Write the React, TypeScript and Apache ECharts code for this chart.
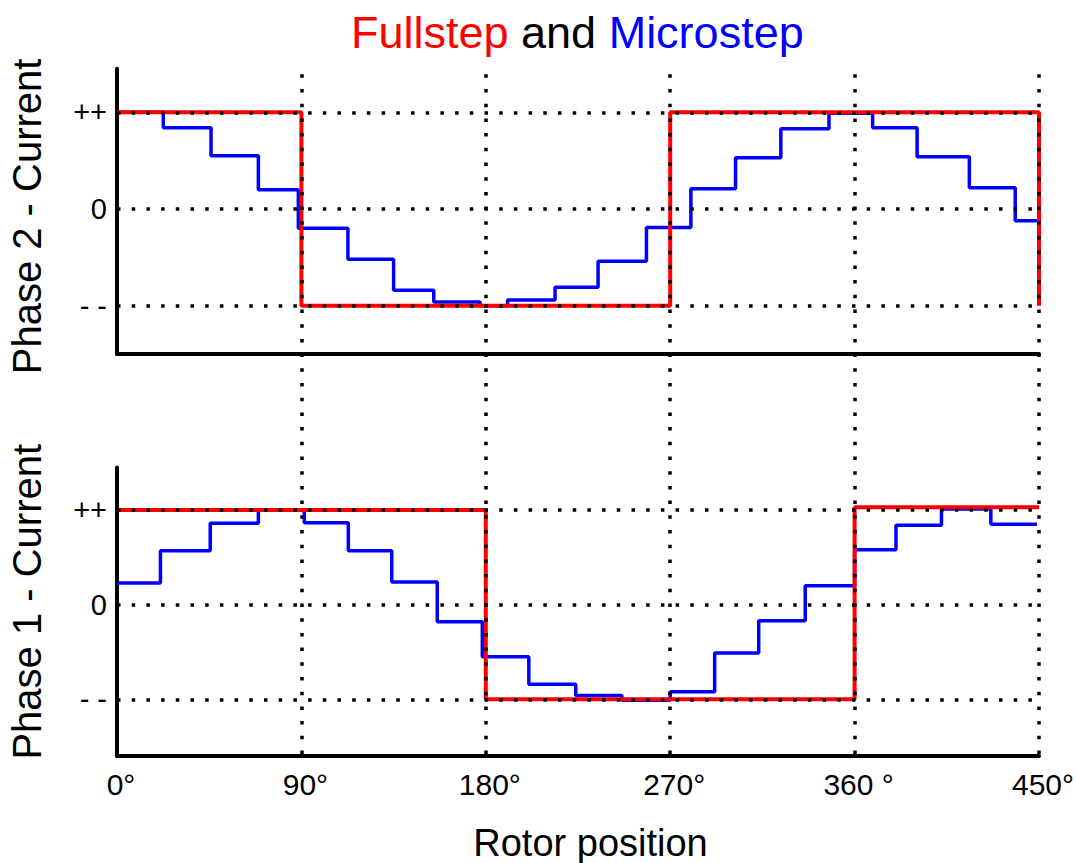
import React, { useEffect, useRef } from "react";
import * as echarts from "echarts";

// ---- data ----
const angleTicks = [0, 90, 180, 270, 360, 450];
const angleLabels = ["0°", "90°", "180°", "270°", "360 °", "450°"];
const levelValues = [1, 0, -1];
const levelNames = ["++", "0", "- -"];

// Phase 2 (top panel)
const phase2FullX = [0, 90, 270, 450];
const phase2FullY = [1, -1, 1, -1];
const phase2MicroX = [0, 22.6, 45.9, 69, 88.5, 112.7, 135, 154.6, 177.2, 190.6, 213.8, 234.8, 258.4, 280.1, 301.9, 324, 347.5, 368.8, 390.5, 416, 438.4, 449];
const phase2MicroY = [1.0, 0.84, 0.55, 0.2, -0.2, -0.52, -0.84, -0.96, -1.0, -0.94, -0.81, -0.54, -0.19, 0.21, 0.53, 0.83, 0.99, 0.84, 0.54, 0.22, -0.12, -0.12];

// Phase 1 (bottom panel)
const phase1FullX = [0, 180, 360, 450];
const phase1FullY = [1, -1, 1.03, 1.03];
const phase1MicroX = [0, 21.2, 45.5, 69, 91.4, 112.9, 134.1, 156.3, 178.3, 201, 223.9, 246.4, 270, 291.7, 313.2, 335.9, 360, 380.2, 402.4, 426.5, 449];
const phase1MicroY = [0.23, 0.57, 0.86, 1.0, 0.865, 0.57, 0.24, -0.18, -0.55, -0.84, -0.96, -1.01, -0.92, -0.51, -0.17, 0.2, 0.58, 0.84, 1.01, 0.85, 0.85];

const FONT = "Liberation Sans, Arial, sans-serif";
const RED = "#ff0000";
const BLUE = "#0000ff";

const pairs = (xs: number[], ys: number[]) => xs.map((x, i) => [x, ys[i]]);

const levelFormatter = (v: number) => {
  const r = Math.round(v * 100) / 100;
  const idx = levelValues.indexOf(r);
  return idx >= 0 ? levelNames[idx] : "";
};

const dotted = { type: [3.5, 11.2] as any, width: 3.5, color: "#000", cap: "butt" as any };

export default function App() {
  const ref = useRef<HTMLDivElement>(null);
  useEffect(() => {
    if (!ref.current) return;
    const chart = echarts.init(ref.current, undefined, { renderer: "svg" });
    const axisLineStyle = { show: true, onZero: false, lineStyle: { color: "#000", width: 4 } };
    const yAxisBase = {
      type: "value" as const,
      interval: 0.5,
      axisLine: axisLineStyle,
      axisTick: { show: false },
      splitLine: { show: false },
      axisLabel: {
        formatter: levelFormatter,
        fontSize: 29,
        fontFamily: FONT,
        color: "#000",
        margin: 10,
      },
      nameLocation: "middle" as const,
      nameGap: 70,
    };
    const nameStyle = (padding: number[]) => ({ fontSize: 40, fontFamily: FONT, color: "#000", padding });
    const hLines = (idx: number) => ({
      type: "line",
      xAxisIndex: idx,
      yAxisIndex: idx,
      data: [],
      z: 10,
      silent: true,
      markLine: {
        silent: true,
        symbol: ["none", "none"],
        label: { show: false },
        lineStyle: dotted,
        data: levelValues.map((v) => ({ yAxis: v })),
      },
    });
    chart.setOption({
      animation: false,
      title: {
        text: "{r|Fullstep} {k|and} {b|Microstep}",
        left: 346,
        top: 5,
        textStyle: {
          fontSize: 45,
          fontWeight: "normal",
          fontFamily: FONT,
          color: "#000",
          rich: {
            r: { fontSize: 45, fontFamily: FONT, color: RED },
            k: { fontSize: 45, fontFamily: FONT, color: "#000" },
            b: { fontSize: 45, fontFamily: FONT, color: BLUE },
          },
        },
      },
      grid: [
        { left: 117, width: 922, top: 68.8, height: 285.3, outerBoundsMode: "none", containLabel: false },
        { left: 117, width: 922, top: 467.4, height: 288.7, outerBoundsMode: "none", containLabel: false },
        { left: 117, width: 922, top: 64, height: 690, outerBoundsMode: "none", containLabel: false },
      ],
      xAxis: [
        {
          type: "value",
          gridIndex: 0,
          min: 0,
          max: 450,
          interval: 90,
          axisLine: axisLineStyle,
          axisTick: { show: false },
          axisLabel: { show: false },
          splitLine: { show: false },
        },
        {
          type: "value",
          gridIndex: 1,
          min: 0,
          max: 450,
          interval: 90,
          axisLine: axisLineStyle,
          axisTick: { show: false },
          splitLine: { show: false },
          axisLabel: {
            formatter: (v: number) => {
              const i = angleTicks.indexOf(Math.round(v));
              return i >= 0 ? angleLabels[i] : "";
            },
            fontSize: 30,
            fontFamily: FONT,
            color: "#000",
            margin: 13,
            padding: [0, 0, 0, 8],
          },
          name: "Rotor position",
          nameLocation: "middle",
          nameGap: 68,
          nameTextStyle: { fontSize: 38, fontFamily: FONT, color: "#000", padding: [0, 0, 0, 25] },
        },
        { type: "value", gridIndex: 2, min: 0, max: 450, show: false },
      ],
      yAxis: [
        {
          ...yAxisBase,
          gridIndex: 0,
          min: -1.5,
          max: 1.45,
          name: "Phase 2 - Current",
          nameTextStyle: nameStyle([0, 10, 0, 0]),
        },
        {
          ...yAxisBase,
          gridIndex: 1,
          min: -1.6,
          max: 1.45,
          interval: 0.2,
          name: "Phase 1 - Current",
          nameTextStyle: nameStyle([0, 0, 0, 20]),
        },
        { type: "value", gridIndex: 2, min: 0, max: 1, show: false },
      ],
      series: [
        {
          type: "line",
          name: "Microstep Phase 2",
          xAxisIndex: 0,
          yAxisIndex: 0,
          step: "end",
          showSymbol: false,
          z: 3,
          lineStyle: { color: BLUE, width: 3.5 },
          data: pairs(phase2MicroX, phase2MicroY),
        },
        {
          type: "line",
          name: "Fullstep Phase 2",
          xAxisIndex: 0,
          yAxisIndex: 0,
          step: "end",
          showSymbol: false,
          z: 4,
          lineStyle: { color: RED, width: 4 },
          data: pairs(phase2FullX, phase2FullY),
        },
        {
          type: "line",
          name: "Microstep Phase 1",
          xAxisIndex: 1,
          yAxisIndex: 1,
          step: "end",
          showSymbol: false,
          z: 3,
          lineStyle: { color: BLUE, width: 3.5 },
          data: pairs(phase1MicroX, phase1MicroY),
        },
        {
          type: "line",
          name: "Fullstep Phase 1",
          xAxisIndex: 1,
          yAxisIndex: 1,
          step: "end",
          showSymbol: false,
          z: 4,
          lineStyle: { color: RED, width: 4 },
          data: pairs(phase1FullX, phase1FullY),
        },
        hLines(0),
        hLines(1),
        {
          type: "line",
          xAxisIndex: 2,
          yAxisIndex: 2,
          data: [],
          z: 10,
          silent: true,
          markLine: {
            silent: true,
            symbol: ["none", "none"],
            label: { show: false },
            lineStyle: dotted,
            data: angleTicks.filter((a) => a > 0).map((a) => ({ xAxis: a })),
          },
        },
      ],
    });
    return () => chart.dispose();
  }, []);
  return (
    <div
      ref={ref}
      style={{ position: "absolute", left: 0, top: 0, width: 1076, height: 863, background: "#fff" }}
    />
  );
}
